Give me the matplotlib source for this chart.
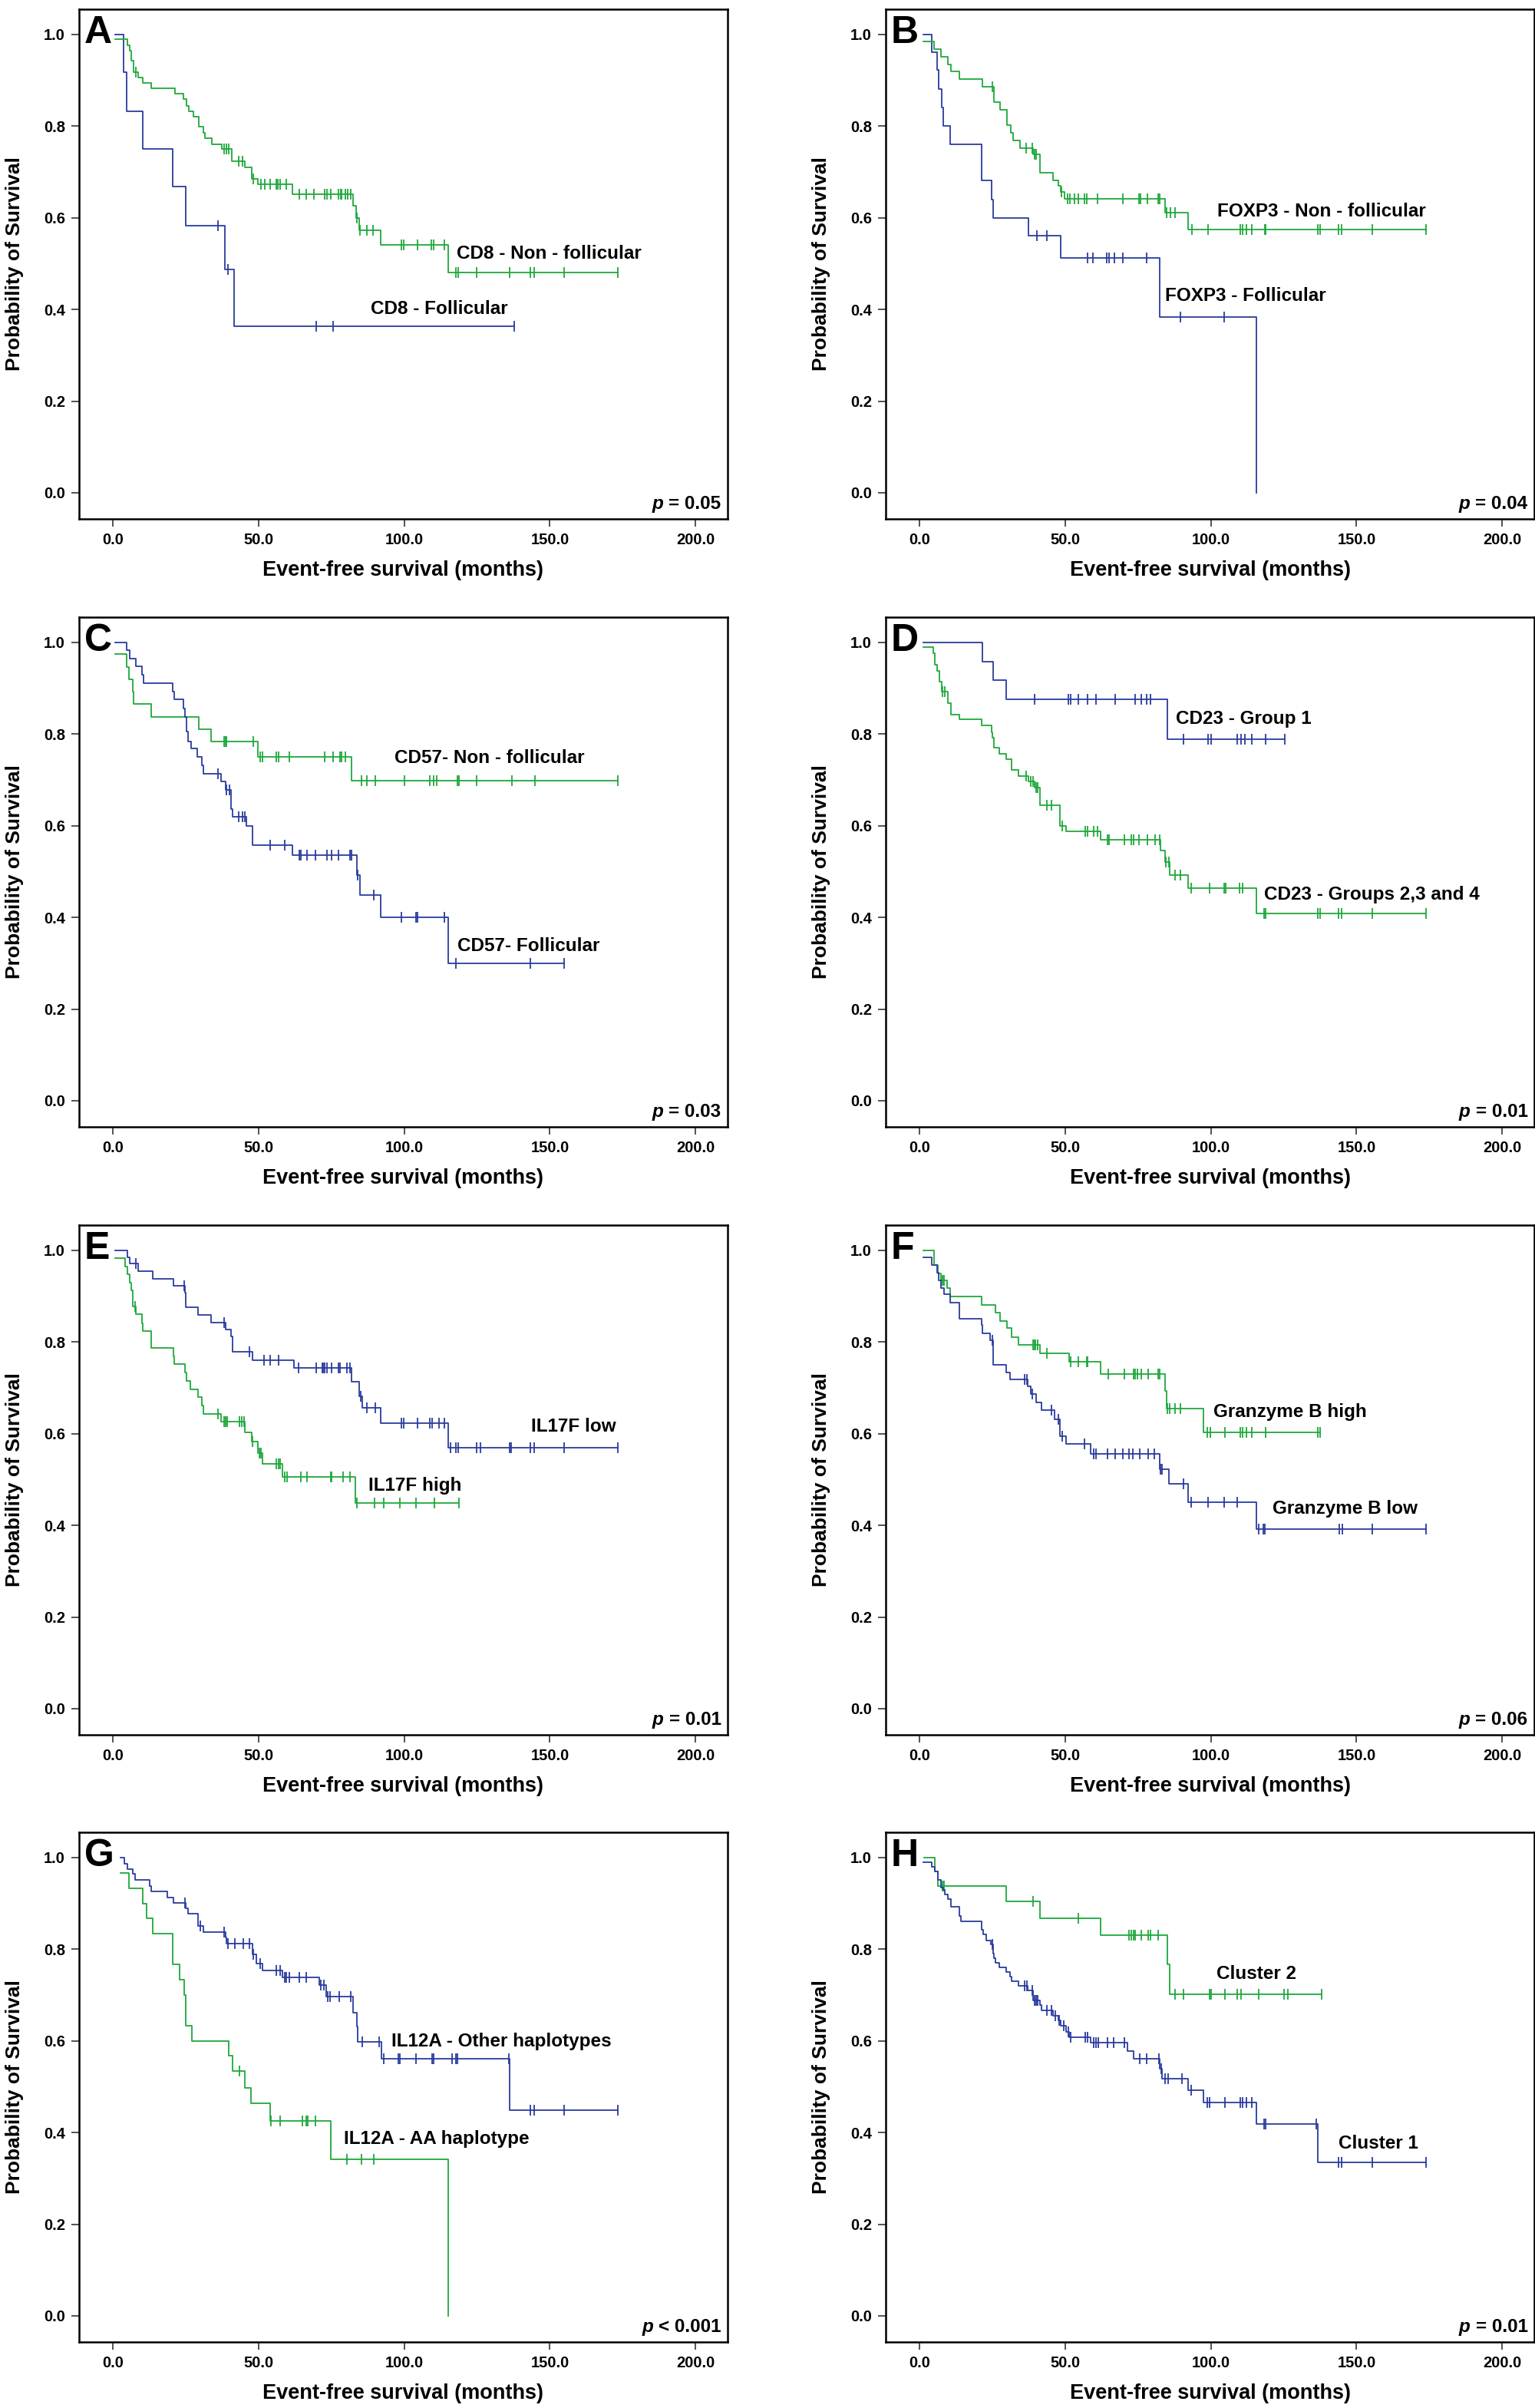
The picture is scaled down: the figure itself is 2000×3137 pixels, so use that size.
import numpy as np
import matplotlib
matplotlib.use('Agg')
import matplotlib.pyplot as plt

# colores de las curvas
BLUE = '#2a3c9e'
GREEN = '#1fa83c'

FONT = ['Liberation Sans', 'DejaVu Sans']

# ---- A: CD8 ----
A_blue_t = [0.9, 3.7, 4.8, 10.2, 20.6, 25.0, 38.4, 41.7]
A_blue_s = [1.0, 0.918, 0.833, 0.750, 0.668, 0.582, 0.487, 0.364]
A_blue_c = [36.1, 39.6, 69.7, 75.5, 137.8]
A_green_t = [0.9, 5.1, 5.8, 6.3, 7.1, 8.8, 10.2, 13.1, 21.3, 24.3, 25.2, 26.2, 27.6, 29.6, 31.0, 31.6,
             34.0, 37.3, 40.8, 45.2, 47.6, 49.7, 61.6, 82.5, 83.4, 84.5, 91.9, 115.2]
A_green_s = [0.989, 0.977, 0.965, 0.942, 0.918, 0.906, 0.894, 0.882, 0.870, 0.859, 0.844, 0.833, 0.821,
             0.798, 0.785, 0.773, 0.761, 0.750, 0.724, 0.710, 0.685, 0.673, 0.652, 0.627, 0.600, 0.573,
             0.541, 0.481]
A_green_c = [8.0, 38.1, 38.9, 39.8, 43.2, 44.6, 48.3, 50.9, 52.2, 53.9, 56.0, 56.6, 57.3, 59.4, 64.1,
             66.3, 68.9, 72.6, 73.5, 74.8, 77.4, 78.1, 78.6, 79.8, 80.6, 81.6, 83.7, 84.9, 87.1, 89.3,
             99.0, 99.8, 104.6, 109.2, 110.0, 113.8, 117.7, 118.5, 124.8, 136.1, 143.2, 144.6, 154.8, 173.3]

# ---- B: FOXP3 ----
B_blue_t = [1.4, 4.3, 6.0, 6.5, 7.7, 8.2, 10.4, 21.3, 24.7, 25.2, 37.4, 48.5, 82.5, 115.6]
B_blue_s = [1.0, 0.961, 0.922, 0.881, 0.840, 0.800, 0.761, 0.681, 0.640, 0.600, 0.561, 0.513, 0.384, 0.0]
B_blue_c = [40.3, 43.7, 57.8, 59.5, 64.3, 65.1, 67.0, 69.9, 77.9, 89.6, 104.6]
B_green_t = [1.4, 5.1, 7.3, 9.7, 10.7, 13.6, 21.6, 25.5, 27.6, 30.1, 31.3, 32.0, 34.4, 39.1, 41.3, 45.9,
             47.6, 48.5, 49.8, 84.2, 92.3]
B_green_s = [0.984, 0.968, 0.951, 0.935, 0.919, 0.902, 0.886, 0.853, 0.836, 0.802, 0.785, 0.768, 0.752,
             0.738, 0.699, 0.682, 0.669, 0.657, 0.641, 0.611, 0.574]
B_green_c = [25.0, 36.6, 38.6, 39.6, 40.1, 48.8, 50.9, 51.7, 53.2, 54.6, 56.5, 57.3, 61.1, 69.9, 75.3,
             75.9, 78.1, 82.0, 82.5, 84.9, 86.1, 87.6, 93.4, 99.1, 110.0, 110.9, 112.1, 114.1, 118.5,
             118.9, 136.6, 137.4, 143.7, 144.9, 155.3, 173.8]

# ---- C: CD57 ----
C_blue_t = [0.9, 4.8, 5.8, 8.0, 10.0, 10.4, 20.6, 21.1, 24.3, 24.8, 25.2, 25.7, 26.9, 28.9, 30.6, 31.1,
            37.2, 38.6, 40.6, 41.2, 45.7, 48.0, 61.6, 83.7, 84.9, 91.8, 115.1]
C_blue_s = [1.0, 0.983, 0.965, 0.947, 0.929, 0.911, 0.893, 0.875, 0.856, 0.837, 0.805, 0.784, 0.768,
            0.750, 0.731, 0.714, 0.697, 0.679, 0.637, 0.619, 0.599, 0.558, 0.536, 0.493, 0.449, 0.400, 0.299]
C_blue_c = [36.1, 39.1, 40.0, 43.2, 44.6, 45.4, 53.9, 59.0, 64.1, 64.6, 66.7, 69.6, 73.5, 75.0, 77.4,
            81.3, 82.0, 84.0, 89.5, 99.0, 104.1, 104.6, 113.8, 117.7, 143.2, 154.9]
C_green_t = [0.9, 4.8, 5.4, 6.8, 7.1, 13.1, 29.6, 33.8, 49.8, 82.0]
C_green_s = [0.974, 0.946, 0.919, 0.892, 0.865, 0.838, 0.811, 0.784, 0.751, 0.699]
C_green_c = [38.1, 38.8, 39.1, 48.3, 50.5, 51.4, 56.1, 56.8, 60.7, 72.6, 75.7, 77.9, 78.6, 79.8, 85.4,
             87.1, 90.1, 100.2, 108.7, 110.2, 111.2, 118.4, 118.7, 124.8, 137.1, 144.9, 173.3]

# ---- D: CD23 ----
D_blue_t = [1.4, 21.6, 25.3, 29.8, 85.0]
D_blue_s = [1.0, 0.958, 0.917, 0.876, 0.788]
D_blue_c = [39.6, 51.2, 51.9, 54.4, 57.7, 60.5, 67.2, 74.1, 76.2, 77.9, 79.3, 90.6, 99.1, 100.0, 109.0,
            110.5, 111.7, 114.1, 118.7, 125.3]
D_green_t = [1.4, 4.8, 5.3, 6.1, 6.8, 7.7, 9.7, 10.7, 13.6, 21.3, 24.7, 25.0, 25.5, 27.4, 29.8, 31.5,
             34.0, 37.4, 39.6, 41.3, 48.1, 50.2, 62.1, 82.8, 84.2, 85.9, 92.3, 115.6]
D_green_s = [0.989, 0.976, 0.952, 0.938, 0.915, 0.892, 0.868, 0.843, 0.832, 0.819, 0.804, 0.792, 0.770,
             0.757, 0.745, 0.721, 0.708, 0.696, 0.683, 0.645, 0.600, 0.587, 0.570, 0.546, 0.520, 0.493,
             0.463, 0.409]
D_green_c = [8.0, 8.8, 36.6, 38.3, 39.1, 40.0, 40.5, 43.7, 45.4, 49.0, 57.0, 57.7, 59.9, 61.1, 64.5,
             65.1, 70.2, 72.8, 73.5, 75.3, 78.1, 80.8, 82.5, 84.6, 85.5, 87.6, 89.6, 93.2, 99.5, 104.6,
             105.1, 109.9, 110.9, 118.2, 118.7, 136.6, 137.4, 143.7, 144.9, 155.3, 173.8]

# ---- E: IL17F ----
E_blue_t = [0.9, 5.1, 5.8, 8.8, 13.6, 20.7, 24.7, 25.0, 29.3, 33.8, 38.6, 40.5, 41.2, 48.0, 62.1, 82.0,
            84.5, 85.7, 91.8, 115.1]
E_blue_s = [1.0, 0.984, 0.971, 0.954, 0.938, 0.923, 0.907, 0.875, 0.859, 0.843, 0.828, 0.812, 0.778,
            0.760, 0.743, 0.713, 0.682, 0.656, 0.623, 0.570]
E_blue_c = [8.0, 24.5, 38.1, 46.8, 51.9, 53.9, 56.8, 63.8, 69.7, 71.8, 72.3, 72.8, 73.5, 75.2, 77.4,
            77.9, 80.3, 81.5, 85.0, 87.1, 90.0, 99.0, 99.8, 104.6, 108.7, 109.5, 111.9, 113.8, 116.0,
            117.7, 118.5, 124.8, 126.2, 136.1, 136.7, 143.2, 144.6, 154.8, 173.3]
E_green_t = [0.9, 4.3, 4.9, 5.8, 6.3, 6.8, 7.8, 10.0, 10.2, 13.1, 20.7, 21.1, 24.7, 25.2, 26.7, 29.3,
             30.6, 31.1, 37.2, 45.4, 47.6, 49.7, 51.4, 58.2, 83.3]
E_green_s = [0.983, 0.964, 0.948, 0.930, 0.913, 0.877, 0.860, 0.841, 0.824, 0.787, 0.768, 0.752, 0.734,
             0.715, 0.697, 0.680, 0.661, 0.643, 0.626, 0.602, 0.582, 0.558, 0.535, 0.505, 0.449]
E_green_c = [7.5, 36.1, 38.1, 38.8, 39.3, 43.4, 44.2, 45.1, 48.0, 50.4, 50.9, 56.1, 56.8, 57.5, 59.0,
             59.9, 64.6, 66.7, 74.7, 75.2, 79.1, 81.5, 83.7, 89.8, 93.0, 98.6, 104.1, 110.5, 118.7]

# ---- F: Granzyme B ----
F_green_t = [1.4, 5.1, 6.3, 7.3, 9.4, 10.4, 21.3, 26.0, 27.6, 30.1, 31.5, 34.0, 41.3, 51.4, 62.1, 84.2,
             84.9, 97.4]
F_green_s = [1.0, 0.968, 0.950, 0.935, 0.917, 0.899, 0.881, 0.864, 0.846, 0.830, 0.811, 0.794, 0.776,
             0.757, 0.730, 0.693, 0.654, 0.602]
F_green_c = [8.0, 8.5, 38.9, 39.4, 39.9, 40.5, 43.7, 51.9, 54.6, 57.3, 57.8, 64.8, 70.2, 73.6, 74.1,
             74.8, 76.0, 78.4, 81.8, 82.5, 85.2, 85.9, 87.6, 89.6, 98.8, 99.8, 104.9, 110.0, 110.9,
             112.1, 114.1, 118.9, 136.6, 137.4]
F_blue_t = [1.4, 4.3, 6.0, 6.5, 7.3, 8.5, 10.4, 13.6, 21.3, 21.6, 24.3, 25.2, 29.8, 31.1, 37.2, 38.3,
            40.0, 42.0, 46.3, 48.1, 50.2, 58.7, 82.5, 85.5, 92.3, 115.6]
F_blue_s = [0.984, 0.968, 0.951, 0.935, 0.918, 0.904, 0.886, 0.851, 0.837, 0.819, 0.804, 0.751, 0.734,
            0.718, 0.703, 0.686, 0.668, 0.651, 0.632, 0.595, 0.577, 0.556, 0.523, 0.490, 0.451, 0.392]
F_blue_c = [25.0, 36.1, 37.0, 38.8, 45.4, 47.6, 49.0, 56.6, 59.7, 60.7, 64.5, 67.2, 69.9, 71.8, 73.1,
            75.7, 78.4, 80.6, 82.7, 83.3, 90.6, 93.2, 99.1, 104.6, 109.0, 116.5, 117.9, 118.5, 144.2,
            145.1, 155.3, 173.8]

# ---- G: IL12A ----
G_blue_t = [2.6, 3.9, 5.1, 6.8, 7.7, 12.6, 13.1, 18.7, 20.7, 25.0, 25.9, 29.3, 31.0, 38.6, 39.1, 48.0,
            49.3, 51.4, 58.2, 70.9, 73.1, 82.5, 83.7, 84.0, 92.2, 136.1]
G_blue_s = [1.0, 0.987, 0.975, 0.964, 0.951, 0.938, 0.926, 0.913, 0.901, 0.890, 0.877, 0.851, 0.837,
            0.826, 0.813, 0.788, 0.768, 0.754, 0.738, 0.721, 0.696, 0.662, 0.631, 0.598, 0.561, 0.448]
G_blue_c = [24.8, 29.9, 38.1, 39.4, 42.0, 44.9, 46.8, 48.3, 50.5, 56.1, 57.5, 59.0, 59.5, 60.5, 63.9,
            66.3, 71.3, 72.4, 73.7, 74.5, 77.7, 81.6, 85.7, 91.3, 93.0, 98.1, 98.6, 104.1, 109.5, 110.2,
            116.3, 117.7, 118.2, 135.8, 143.2, 144.6, 154.8, 173.3]
G_green_t = [2.6, 5.4, 10.2, 11.6, 13.8, 20.6, 22.8, 24.5, 25.0, 27.2, 39.8, 41.2, 45.4, 47.3, 53.9,
             74.8, 115.1]
G_green_s = [0.966, 0.933, 0.900, 0.867, 0.834, 0.767, 0.733, 0.700, 0.633, 0.600, 0.567, 0.534, 0.498,
             0.463, 0.426, 0.341, 0.0]
G_green_c = [43.4, 54.2, 57.3, 65.0, 66.3, 67.0, 69.6, 80.3, 85.4, 89.5]

# ---- H: Clusters ----
H_green_t = [1.7, 5.3, 6.3, 29.8, 41.3, 62.1, 85.0, 85.9]
H_green_s = [1.0, 0.970, 0.937, 0.904, 0.867, 0.831, 0.767, 0.702]
H_green_c = [8.0, 8.3, 39.1, 54.4, 71.9, 72.8, 73.5, 74.0, 76.0, 78.4, 79.4, 81.8, 87.6, 90.6, 99.5,
             100.0, 104.9, 109.0, 110.5, 116.5, 125.2, 126.5, 137.9]
H_blue_t = [1.4, 4.3, 5.3, 6.3, 7.3, 8.2, 8.7, 9.7, 10.7, 13.6, 14.1, 21.3, 21.8, 23.0, 24.5, 25.2,
            25.5, 26.0, 27.4, 29.8, 31.0, 31.5, 34.0, 37.2, 39.1, 41.3, 42.0, 45.9, 47.6, 48.5, 50.2,
            51.4, 58.7, 71.4, 73.6, 82.5, 83.3, 92.3, 97.4, 115.6, 136.6]
H_blue_s = [0.990, 0.980, 0.970, 0.951, 0.935, 0.929, 0.919, 0.910, 0.892, 0.872, 0.860, 0.842, 0.832,
            0.819, 0.810, 0.790, 0.780, 0.770, 0.761, 0.750, 0.740, 0.730, 0.720, 0.710, 0.689, 0.678,
            0.666, 0.655, 0.645, 0.633, 0.620, 0.608, 0.596, 0.578, 0.561, 0.539, 0.517, 0.493, 0.465,
            0.418, 0.335]
H_blue_c = [24.9, 36.2, 36.9, 38.6, 39.4, 40.1, 40.5, 43.7, 45.4, 46.6, 48.0, 49.5, 51.0, 52.0, 57.0,
            57.8, 59.7, 60.5, 61.4, 64.5, 66.7, 70.2, 75.7, 77.9, 82.1, 82.9, 84.2, 85.4, 90.0, 93.2,
            98.8, 99.5, 104.9, 110.0, 110.9, 112.1, 114.1, 118.4, 118.9, 136.3, 143.7, 144.9, 155.3, 173.8]

letters = ['A', 'B', 'C', 'D', 'E', 'F', 'G', 'H']
p_values = ['= 0.05', '= 0.04', '= 0.03', '= 0.01', '= 0.01', '= 0.06', '< 0.001', '= 0.01']

curves = {
    'A': [(A_blue_t, A_blue_s, A_blue_c, BLUE), (A_green_t, A_green_s, A_green_c, GREEN)],
    'B': [(B_blue_t, B_blue_s, B_blue_c, BLUE), (B_green_t, B_green_s, B_green_c, GREEN)],
    'C': [(C_green_t, C_green_s, C_green_c, GREEN), (C_blue_t, C_blue_s, C_blue_c, BLUE)],
    'D': [(D_blue_t, D_blue_s, D_blue_c, BLUE), (D_green_t, D_green_s, D_green_c, GREEN)],
    'E': [(E_green_t, E_green_s, E_green_c, GREEN), (E_blue_t, E_blue_s, E_blue_c, BLUE)],
    'F': [(F_green_t, F_green_s, F_green_c, GREEN), (F_blue_t, F_blue_s, F_blue_c, BLUE)],
    'G': [(G_green_t, G_green_s, G_green_c, GREEN), (G_blue_t, G_blue_s, G_blue_c, BLUE)],
    'H': [(H_green_t, H_green_s, H_green_c, GREEN), (H_blue_t, H_blue_s, H_blue_c, BLUE)],
}

# etiquetas de cada curva: texto, tiempo, supervivencia
labels = {
    'A': [('CD8 - Non - follicular', 118.0, 0.522), ('CD8 - Follicular', 88.4, 0.401)],
    'B': [('FOXP3 - Non - follicular', 102.2, 0.613), ('FOXP3 - Follicular', 84.2, 0.430)],
    'C': [('CD57- Non - follicular', 96.6, 0.748), ('CD57- Follicular', 118.4, 0.338)],
    'D': [('CD23 - Group 1', 87.9, 0.833), ('CD23 - Groups 2,3 and 4', 118.2, 0.449)],
    'E': [('IL17F low', 143.5, 0.616), ('IL17F high', 87.8, 0.487)],
    'F': [('Granzyme B high', 100.9, 0.648), ('Granzyme B low', 121.3, 0.436)],
    'G': [('IL12A - Other haplotypes', 95.6, 0.598), ('IL12A - AA haplotype', 79.3, 0.386)],
    'H': [('Cluster 2', 101.9, 0.746), ('Cluster 1', 143.7, 0.376)],
}

W, H = 2000, 3137
fig = plt.figure(figsize=(W / 100, H / 100), dpi=100)

col_left = [103, 1154]
ax_w = 845
ax_h = 664
row_top = [12, 804, 1596, 2387]

for i, let in enumerate(letters):
    r, c = i // 2, i % 2
    left = col_left[c] / W
    bottom = 1 - (row_top[r] + ax_h) / H
    ax = fig.add_axes([left, bottom, ax_w / W, ax_h / H])

    for t, s, cens, col in curves[let]:
        t = list(t)
        s = list(s)
        end = max(t[-1], max(cens))
        ax.step(t + [end], s + [s[-1]], where='post', color=col, lw=1.3)
        idx = np.searchsorted(t, cens, side='right') - 1
        ax.plot(cens, np.array(s)[idx], ls='none', marker='|', ms=10, mew=1.3, color=col)

    for txt, x, y in labels[let]:
        ax.text(x, y, txt, fontsize=17.5, fontweight='bold', family=FONT, va='center', ha='left')

    ax.text(0.008, 0.988, let, transform=ax.transAxes, fontsize=36, fontweight='bold',
            family=FONT, va='top', ha='left')
    pt = ax.text(0.99, 0.012, p_values[i], transform=ax.transAxes, fontsize=17.5, fontweight='bold',
                 family=FONT, va='bottom', ha='right')
    ax.annotate('p ', xy=(0, 0), xycoords=pt, fontsize=17.5, fontweight='bold', fontstyle='italic',
                family=FONT, va='bottom', ha='right')

    ax.set_xlim(-11.6, 211)
    ax.set_ylim(-0.057, 1.055)
    ax.set_xticks([0, 50, 100, 150, 200])
    ax.set_xticklabels(['%.1f' % v for v in [0, 50, 100, 150, 200]])
    ax.set_yticks([0, 0.2, 0.4, 0.6, 0.8, 1.0])
    ax.set_yticklabels(['%.1f' % v for v in [0, 0.2, 0.4, 0.6, 0.8, 1.0]])
    for lab in ax.get_xticklabels() + ax.get_yticklabels():
        lab.set_fontsize(14.5)
        lab.set_fontweight('bold')
        lab.set_family(FONT)
    ax.tick_params(length=7, width=1.3, color='#444444', pad=6)
    for sp in ax.spines.values():
        sp.set_linewidth(1.8)
    ax.set_xlabel('Event-free survival (months)', fontsize=19.5, fontweight='bold', family=FONT,
                  labelpad=12)
    ax.set_ylabel('Probability of Survival', fontsize=19, fontweight='bold', family=FONT, labelpad=19)

fig.savefig('out.png', dpi=100)
